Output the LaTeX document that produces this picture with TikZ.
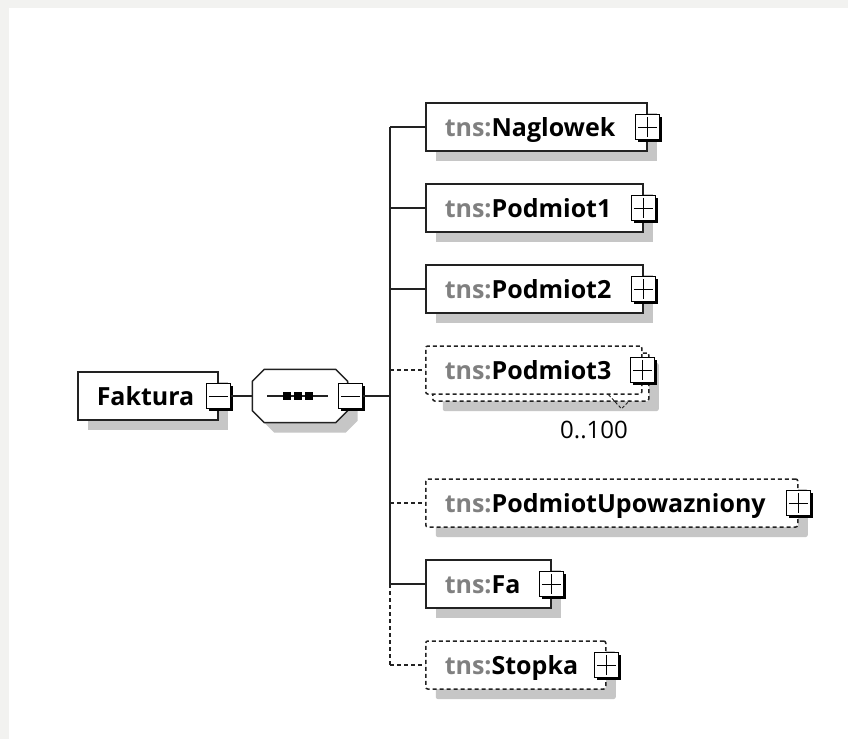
\documentclass[tikz,border=0pt]{standalone}
\usepackage{fontspec}
\setmainfont{Open Sans}
\usetikzlibrary{shadows}

\definecolor{framegray}{HTML}{F2F2F0}
\definecolor{shadegray}{HTML}{C6C6C6}
\definecolor{tnsgray}{HTML}{808080}
\definecolor{linegray}{HTML}{222222}

\newcommand{\tns}[1]{{\color{tnsgray}tns:}#1}

\tikzset{
  elem/.style={draw=linegray, fill=white, line width=1.5pt, minimum height=48pt,
    inner xsep=19pt, inner ysep=0pt, align=left, anchor=west,
    text height=18pt, text depth=0pt, font=\fontsize{25}{29}\selectfont\bfseries},
  shade/.style={drop shadow={shadow xshift=10pt, shadow yshift=-10pt, fill=shadegray, opacity=1}},
  optbox/.style={dash pattern=on 4pt off 3pt, rounded corners=2pt},
  btn/.style={draw=black, fill=white, line width=1.2pt, minimum width=24pt, minimum height=25pt,
    inner sep=0pt, drop shadow={shadow xshift=2.5pt, shadow yshift=-2.5pt, fill=black, opacity=1}},
  conn/.style={draw=linegray, line width=1.5pt},
  optline/.style={conn, dash pattern=on 4pt off 3pt}
}

\begin{document}
\begin{tikzpicture}[x=1pt, y=-1pt]
  \useasboundingbox (0,0) rectangle (848,739);
  \fill[framegray] (0,0) rectangle (848,739);
  \fill[white] (9,8) rectangle (848,739);

  % root element and sequence
  \node[elem, shade, text width=102pt] (faktura) at (77,396) {Faktura};
  \node[minimum width=95pt, minimum height=53pt, inner sep=0pt] (seq) at (300,396) {};
  \draw[conn, fill=white, shade] ([xshift=12pt]seq.north west) -- ([xshift=-12pt]seq.north east)
    -- ([yshift=-12pt]seq.north east) -- ([yshift=12pt]seq.south east)
    -- ([xshift=-12pt]seq.south east) -- ([xshift=12pt]seq.south west)
    -- ([yshift=12pt]seq.south west) -- ([yshift=-12pt]seq.north west) -- cycle;
  \draw[conn] ([xshift=-33pt]seq.center) -- ([xshift=28pt]seq.center);
  \foreach \dx in {-13,-2,9}
    \fill[black] ([xshift=\dx pt]seq.center) ++(-4,-4) rectangle ++(8,8);

  % children
  \node[elem, shade, text width=183pt] (naglowek) at (425,127) {\tns{Naglowek}};
  \node[elem, shade, text width=179pt] (podmiot1) at (425,208) {\tns{Podmiot1}};
  \node[elem, shade, text width=179pt] (podmiot2) at (425,289) {\tns{Podmiot2}};
  \node[elem, optbox, shade, text width=178pt] (podmiot3-bk) at (432,377) {};
  \node[elem, optbox, text width=178pt] (podmiot3) at (425,370) {\tns{Podmiot3}};
  \node[elem, optbox, shade, text width=334pt] (upowazniony) at (425,503) {\tns{PodmiotUpowazniony}};
  \node[elem, shade, text width=87pt] (fa) at (425,584) {\tns{Fa}};
  \node[elem, optbox, shade, text width=142pt] (stopka) at (425,665) {\tns{Stopka}};

  \draw[conn, line width=0.9pt, dash pattern=on 3pt off 2pt]
    ([xshift=-34pt]podmiot3.south east) -- ++(13,14) -- ++(8,-8);
  \node[font=\fontsize{24}{28}\selectfont, text height=17pt, text depth=0pt, inner sep=0pt]
    (occurs) at (594,430) {0..100};

  % connectors
  \node[btn] (faktura-b) at (faktura.east) {};
  \node[btn] (seq-b) at ([xshift=3pt]seq.east) {};
  \foreach \n in {faktura-b, seq-b}
    \draw[line width=0.9pt] ([xshift=3pt]\n.west) -- ([xshift=-3pt]\n.east);
  \coordinate (bus) at (390,396);
  \draw[conn] (faktura-b.east) -- (seq.west);
  \draw[conn] (seq-b.east) -- (bus);
  \draw[conn] (bus |- naglowek.west) -- (bus |- fa.west);
  \draw[optline] (bus |- fa.west) -- (bus |- stopka.west);
  \foreach \n/\s in {naglowek/conn, podmiot1/conn, podmiot2/conn, podmiot3/optline,
      upowazniony/optline, fa/conn, stopka/optline}
    \draw[\s] (bus |- \n.west) -- (\n.west);

  \foreach \n in {naglowek, podmiot1, podmiot2, podmiot3, upowazniony, fa, stopka} {
    \node[btn] (\n-b) at (\n.east) {};
    \draw[line width=0.9pt] ([xshift=3pt]\n-b.west) -- ([xshift=-3pt]\n-b.east)
      ([yshift=-3pt]\n-b.north) -- ([yshift=3pt]\n-b.south);
  }
\end{tikzpicture}
\end{document}
